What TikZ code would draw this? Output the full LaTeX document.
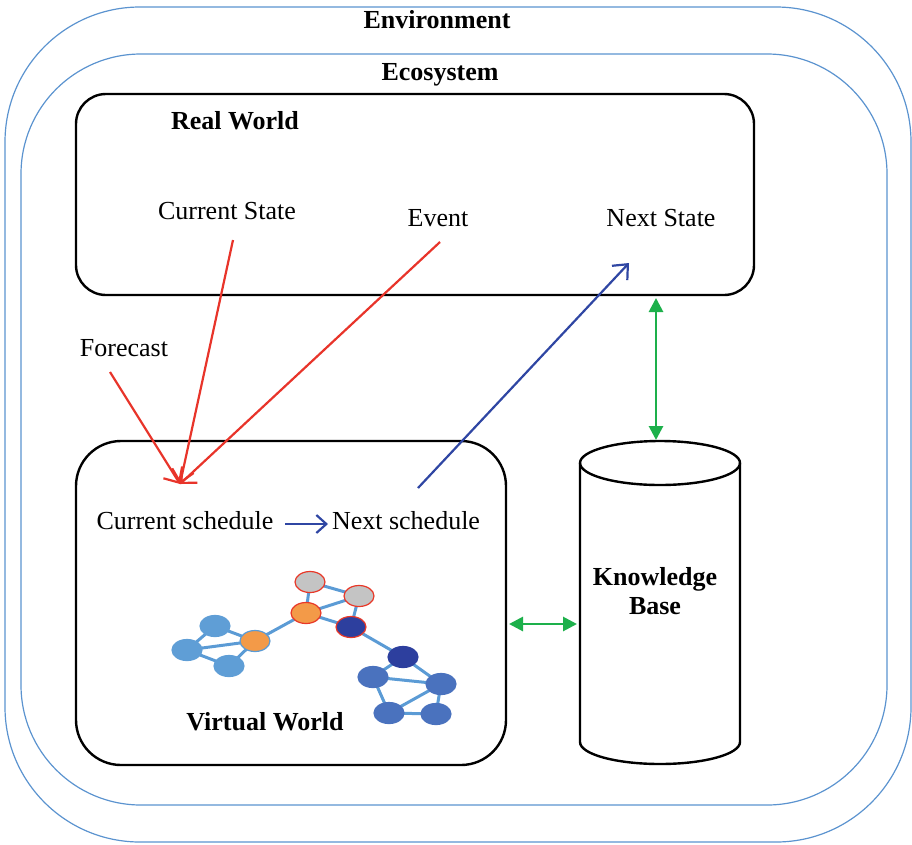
\documentclass[tikz,border=0pt]{standalone}
\usepackage{fontspec}
\setmainfont{Liberation Serif}
\usetikzlibrary{arrows.meta,shapes.geometric,backgrounds}
\definecolor{frameblue}{HTML}{5B93CF}
\definecolor{flowred}{HTML}{E8342A}
\definecolor{flowblue}{HTML}{2F46A3}
\definecolor{linkgreen}{HTML}{1DB04B}
\definecolor{edgeblue}{HTML}{5B9BD5}
\definecolor{lightnode}{HTML}{5F9ED6}
\definecolor{midnode}{HTML}{4A72BE}
\definecolor{navynode}{HTML}{2D3F9E}
\definecolor{orangenode}{HTML}{F39A48}
\definecolor{graynode}{HTML}{C4C4C4}
\definecolor{ringred}{HTML}{E83828}
\tikzset{
  frame/.style={draw=frameblue,line width=1.2pt},
  worldbox/.style={draw=black,line width=2.4pt,rectangle,inner sep=0pt},
  label/.style={inner sep=1pt,font=\fontsize{26}{30}\selectfont},
  boldlabel/.style={label,font=\fontsize{26}{30}\selectfont\bfseries},
  redflow/.style={draw=flowred,line width=2.2pt,-{Straight Barb[length=12pt,width=22pt]}},
  blueflow/.style={draw=flowblue,line width=2.2pt,-{Straight Barb[length=12pt,width=21pt]}},
  greenlink/.style={draw=linkgreen,line width=2.8pt,{Triangle[length=14pt,width=14pt]}-{Triangle[length=14pt,width=14pt]}},
  agent/.style={ellipse,minimum width=30pt,minimum height=21pt,inner sep=0pt,line width=1.2pt},
  lightag/.style={agent,fill=lightnode,draw=lightnode},
  midag/.style={agent,fill=midnode,draw=midnode},
  navyag/.style={agent,fill=navynode,draw=ringred},
  navyplain/.style={agent,fill=navynode,draw=navynode},
  orangeag/.style={agent,fill=orangenode,draw=ringred},
  orangeplain/.style={agent,fill=orangenode,draw=edgeblue},
  grayag/.style={agent,fill=graynode,draw=ringred},
  tie/.style={draw=edgeblue,line width=3pt}
}
\begin{document}
\begin{tikzpicture}[x=1pt,y=-1pt]
\useasboundingbox (0,0) rectangle (912,844);

% nested environment frames
\draw[frame,rounded corners=135pt] (5,7) rectangle (911,842);
\draw[frame,rounded corners=120pt] (21,54) rectangle (887,805);
\node[boldlabel] (env) at (437,20) {Environment};
\node[boldlabel] (eco) at (440,75) {Ecosystem};

% real world
\node[worldbox,rounded corners=30pt,minimum width=678pt,minimum height=201pt] (real) at (415,194.5) {};
\node[boldlabel] (realt) at (235,121) {Real World};
\node[label] (cstate) at (227,211) {Current State};
\node[label] (event) at (438,218) {Event};
\node[label] (nstate) at (661,218) {Next State};
\node[label] (fcast) at (124,348) {Forecast};

% virtual world
\node[worldbox,rounded corners=45pt,minimum width=430pt,minimum height=324pt] (virt) at (291,603) {};
\node[boldlabel] (virtt) at (265,722) {Virtual World};
\node[label] (csched) at (185,521) {Current schedule};
\node[label] (nsched) at (406,521) {Next schedule};

% knowledge base cylinder
\node[minimum width=160pt,minimum height=322pt,inner sep=0pt] (kb) at (660,602) {};
\draw[line width=2.4pt] (580,463) -- (580,742) arc[start angle=180,end angle=0,x radius=80,y radius=22] -- (740,463);
\draw[line width=2.4pt] (660,463) ellipse[x radius=80,y radius=22];
\node[boldlabel,align=center] (kbt) at (655,591) {Knowledge\\[-1pt]Base};

% flow arrows
\coordinate (hub) at (180,484);
\coordinate (csfoot) at (233,240);
\coordinate (evfoot) at (440,242);
\coordinate (fcfoot) at (110,372);
\coordinate (vwtop) at (418,488);
\coordinate (nsfoot) at (629,263);
\draw[redflow] (csfoot) -- (hub);
\draw[redflow] (fcfoot) -- (hub);
\draw[redflow] (evfoot) -- (hub);
\draw[blueflow] (vwtop) -- (nsfoot);
\coordinate (schA) at (285,524);
\coordinate (schB) at (328,524);
\draw[blueflow,-{Straight Barb[length=10pt,width=18pt]}] (schA) -- (schB);

% links to the knowledge base
\coordinate (rwlow) at (656,298);
\coordinate (kbcap) at (656,440);
\draw[greenlink] (rwlow) -- (kbcap);
\coordinate (vwside) at (509,624);
\coordinate (kbside) at (577,624);
\draw[greenlink] (vwside) -- (kbside);

% agent network
\node[grayag] (g1) at (310,582) {};
\node[grayag] (g2) at (359,596) {};
\node[orangeag] (o1) at (306,613) {};
\node[navyag] (n1) at (351,627) {};
\node[orangeplain] (o2) at (255,641) {};
\node[lightag] (a1) at (215,626) {};
\node[lightag] (a2) at (187,650) {};
\node[lightag] (a3) at (229,666) {};
\node[navyplain] (n2) at (403,657) {};
\node[midag] (d1) at (373,677) {};
\node[midag] (d2) at (441,684) {};
\node[midag] (d3) at (389,713) {};
\node[midag] (d4) at (436,714) {};
\begin{scope}[on background layer]
\foreach \p/\q in {g1/g2,g1/o1,g2/o1,g2/n1,o1/n1,o1/o2,o2/a1,o2/a2,o2/a3,a1/a2,a2/a3,
                   n1/n2,n2/d1,n2/d2,d1/d2,d1/d3,d2/d3,d2/d4,d3/d4}
  \draw[tie] (\p.center) -- (\q.center);
\end{scope}
\end{tikzpicture}
\end{document}
